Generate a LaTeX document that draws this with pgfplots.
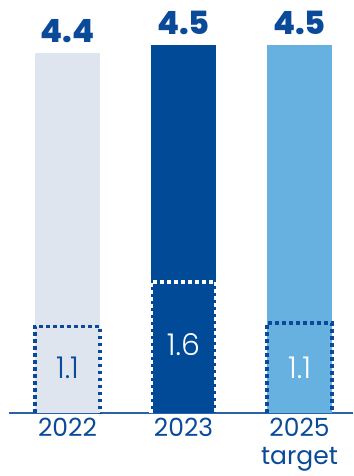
\documentclass[border=0pt]{standalone}
\usepackage{pgfplots}
\pgfplotsset{compat=1.18}
\usepackage{fontspec}
\setmainfont{Poppins}
\newfontfamily\plight{Poppins Light}
\newfontfamily\pxb{Poppins ExtraBold}
\definecolor{barA}{HTML}{DFE5EF}
\definecolor{barB}{HTML}{004A97}
\definecolor{barC}{HTML}{67B1E1}
\definecolor{txt}{HTML}{0A4A98}
\definecolor{axl}{HTML}{2A62A9}
\begin{document}
\begin{tikzpicture}
\useasboundingbox (0,0) rectangle (353pt,476pt);
\begin{axis}[
  at={(9pt,63pt)}, anchor=south west,
  scale only axis, width=344pt, height=413pt,
  xmin=-0.5043, xmax=2.461, ymin=0, ymax=5.049,
  clip=false,
  /pgf/number format/assume math mode=true,
  /pgf/number format/fixed, /pgf/number format/precision=1, /pgf/number format/fixed zerofill,
  axis x line*=bottom, axis y line=none,
  x axis line style={draw=axl, line width=2pt, -},
  xtick={0,1,2}, xticklabels={2022,2023,{2025\\target}},
  major tick length=0pt,
  x tick label style={font=\fontsize{25}{27.5}\selectfont, text=txt, align=center, yshift=-2pt},
  ytick=\empty,
  every node near coord/.style={font=\pxb\fontsize{32}{32}\selectfont, text=txt, anchor=south, yshift=7pt},
]
\addplot[ybar, bar width=65pt, bar shift=0pt, fill=barA, draw=none, nodes near coords]
  coordinates {(0,4.4)};
\addplot[ybar, bar width=65pt, bar shift=0pt, fill=barB, draw=none, nodes near coords]
  coordinates {(1,4.5)};
\addplot[ybar, bar width=65pt, bar shift=0pt, fill=barC, draw=none, nodes near coords]
  coordinates {(2,4.5)};
% dotted boxes
\addplot[txt, line width=3.5pt, dash pattern=on 3.5pt off 3.5pt] coordinates {(-0.28,0) (-0.28,1.06) (0.28,1.06) (0.28,0)};
\addplot[white, line width=3.5pt, dash pattern=on 3.5pt off 3.5pt] coordinates {(0.72,0) (0.72,1.6) (1.28,1.6) (1.28,0)};
\addplot[txt, line width=3.5pt, dash pattern=on 3.5pt off 3.5pt] coordinates {(1.72,0) (1.72,1.1) (2.28,1.1) (2.28,0)};
\node[font=\plight\fontsize{30}{30}\selectfont, text=txt] at (axis cs:0,0.55) {1.1};
\node[font=\plight\fontsize{30}{30}\selectfont, text=white] at (axis cs:1,0.83) {1.6};
\node[font=\plight\fontsize{30}{30}\selectfont, text=white] at (axis cs:2,0.55) {1.1};
\end{axis}
\end{tikzpicture}
\end{document}
